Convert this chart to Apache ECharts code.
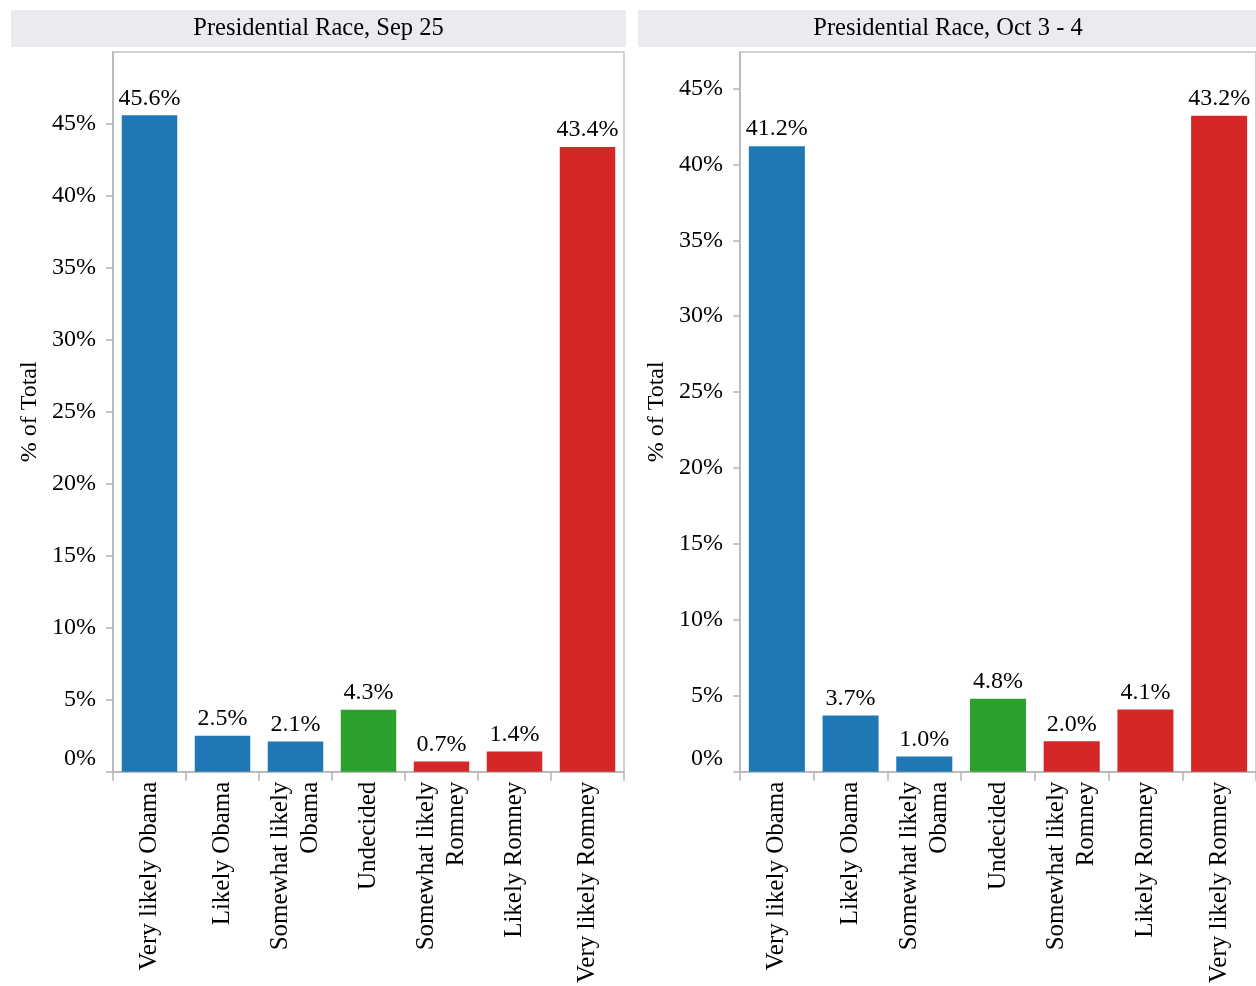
<!DOCTYPE html>
<html>
<head>
<meta charset="utf-8">
<script src="https://cdn.jsdelivr.net/npm/echarts@6/dist/echarts.min.js"></script>
<style>html,body{margin:0;padding:0;background:#fff;}#c{width:1256px;height:986px;}</style>
</head>
<body>
<div id="c"></div>
<script>
const categories = ['Very likely Obama','Likely Obama','Somewhat likely\nObama','Undecided','Somewhat likely\nRomney','Likely Romney','Very likely Romney'];
const categoryGroup = ['obama','obama','obama','undecided','romney','romney','romney'];
const sep25 = [45.6, 2.5, 2.1, 4.3, 0.7, 1.4, 43.4];
const oct34 = [41.2, 3.7, 1.0, 4.8, 2.0, 4.1, 43.2];
const panelTitles = ['Presidential Race, Sep 25', 'Presidential Race, Oct 3 - 4'];
const yTicks = [0, 5, 10, 15, 20, 25, 30, 35, 40, 45];
const yMax = [50, 47.4];

const groupColors = {obama:'#1f77b4', undecided:'#2ca02c', romney:'#d62728'};
const FONT = 'Liberation Serif';
const FS = 24;
const FSX = 25;

const chart = echarts.init(document.getElementById('c'));

const grids = [
  {left:113, top:52, width:511, height:720},
  {left:740, top:52, width:518, height:720}
];

function xAxis(i){
  return {
    type:'category', gridIndex:i, data:categories,
    axisLine:{lineStyle:{color:'#b4b4b4', width:1.5}},
    axisTick:{show:true, interval:0, length:9, lineStyle:{color:'#b4b4b4', width:1.5}},
    axisLabel:{interval:0, rotate:90, margin:10, color:'#000', fontFamily:FONT, fontSize:FSX, lineHeight:30}
  };
}
function yAxis(i){
  return {
    type:'value', gridIndex:i, min:0, max:yMax[i], interval:5,
    name:'% of Total', nameLocation:'middle', nameRotate:90, nameGap:71,
    nameTextStyle:{color:'#000', fontFamily:FONT, fontSize:FS},
    axisLine:{show:true, lineStyle:{color:'#b4b4b4', width:1.5}},
    axisTick:{show:true, length:7, customValues:yTicks, lineStyle:{color:'#b4b4b4', width:1.5}},
    splitLine:{show:false},
    axisLabel:{
      customValues:yTicks, margin:17, color:'#000', fontFamily:FONT, fontSize:FS,
      formatter:function(v){ return v === 0 ? '{z|0%}' : v + '%'; },
      rich:{z:{fontFamily:FONT, fontSize:FS, color:'#000', padding:[0,0,26,0]}}
    }
  };
}
function series(i, values){
  return {
    type:'bar', xAxisIndex:i, yAxisIndex:i, barWidth:'76%',
    data: values.map((v,k)=>({value:v, itemStyle:{color:groupColors[categoryGroup[k]]}})),
    label:{show:true, position:'top', distance:5, color:'#000', fontFamily:FONT, fontSize:FS,
      formatter:function(p){ return p.value.toFixed(1) + '%'; }},
    emphasis:{disabled:true}
  };
}

const headerBoxes = [
  {x:11, w:615},
  {x:638, w:620}
];

chart.setOption({
  animation:false,
  textStyle:{fontFamily:FONT},
  grid: grids.map(g => Object.assign({show:true, borderColor:'#c4c4c4', borderWidth:1.5, backgroundColor:'transparent'}, g)),
  xAxis:[xAxis(0), xAxis(1)],
  yAxis:[yAxis(0), yAxis(1)],
  series:[series(0, sep25), series(1, oct34)],
  graphic: headerBoxes.flatMap((b, i) => [
    {type:'rect', shape:{x:b.x, y:10, width:b.w, height:37}, style:{fill:'#eaebef'}, silent:true},
    {type:'text', x:b.x + b.w/2, y:28.5, style:{text:panelTitles[i], fill:'#000', font: '24.5px "' + FONT + '"', align:'center', verticalAlign:'middle'}, silent:true}
  ])
});
</script>
</body>
</html>
